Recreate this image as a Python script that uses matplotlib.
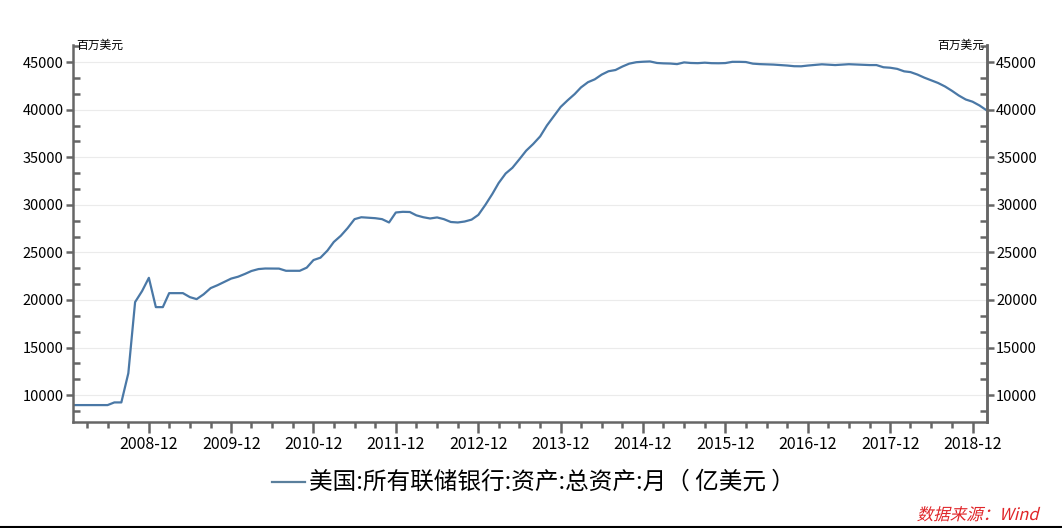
import numpy as np
import pandas as pd
import matplotlib
matplotlib.use('Agg')
import matplotlib.pyplot as plt
import matplotlib.dates as mdates
from matplotlib.ticker import MultipleLocator
from matplotlib.lines import Line2D
from matplotlib.textpath import TextPath
from matplotlib.patches import PathPatch
from matplotlib.font_manager import FontProperties
from matplotlib.transforms import Affine2D

plt.rcParams['font.family'] = ['Noto Sans CJK SC', 'DejaVu Sans']

#------------------------------------------------------------------------------
# data: Fed total assets, monthly, 2008-01 .. 2019-02 (亿美元)

months = pd.date_range('2008-01-01', '2019-02-01', freq='MS')

assets = [
    # 2008
    8950, 8950, 8950, 8950, 8950, 8950, 9230, 9230, 12300, 19780, 20940, 22330,
    # 2009
    19250, 19250, 20720, 20720, 20720, 20300, 20090, 20600, 21250, 21550, 21900, 22250,
    # 2010
    22450, 22750, 23050, 23250, 23310, 23310, 23300, 23070, 23070, 23070, 23400, 24200,
    # 2011
    24450, 25200, 26100, 26750, 27550, 28500, 28700, 28650, 28600, 28500, 28150, 29200,
    # 2012
    29270, 29250, 28900, 28700, 28570, 28680, 28500, 28200, 28150, 28250, 28450, 28950,
    # 2013
    30000, 31150, 32300, 33300, 33900, 34800, 35700, 36400, 37200, 38350, 39350, 40300,
    # 2014
    41000, 41650, 42350, 42900, 43200, 43700, 44050, 44180, 44550, 44850, 45000, 45050,
    # 2015
    45080, 44920, 44880, 44860, 44800, 44980, 44920, 44900, 44950, 44900, 44890, 44910,
    # 2016
    45040, 45040, 45020, 44850, 44800, 44780, 44750, 44700, 44650, 44580, 44570, 44650,
    # 2017
    44720, 44780, 44740, 44700, 44750, 44790, 44760, 44720, 44700, 44700, 44470, 44420,
    # 2018
    44300, 44040, 43960, 43700, 43380, 43100, 42820, 42450, 41990, 41500, 41080, 40850,
    # 2019
    40450, 39950,
]

series_name = '美国:所有联储银行:资产:总资产:月（ 亿美元 ）'
unit_label = '百万美元'
source_text = '数据来源：Wind'

#------------------------------------------------------------------------------

W, H = 1062, 528
fig = plt.figure(figsize=(W/100, H/100), dpi=100)

left, right, top, bottom = 73.3, 986.5, 45, 422.3
ax = fig.add_axes([left/W, 1-bottom/H, (right-left)/W, (bottom-top)/H])

line_color = '#4a78a6'
spine_color = '#666666'

ax.plot(months, assets, color=line_color, lw=1.6)

ax.set_xlim(months[0], months[-1])
ax.set_ylim(7140, 46810)

ax.xaxis.set_major_locator(mdates.MonthLocator(bymonth=12))
ax.xaxis.set_minor_locator(mdates.MonthLocator(bymonth=[3, 6, 9]))
ax.xaxis.set_major_formatter(mdates.DateFormatter('%Y-%m'))

ax.yaxis.set_major_locator(MultipleLocator(5000))
ax.yaxis.set_minor_locator(MultipleLocator(5000/3))

ax.grid(axis='y', which='major', color='#ebebeb', lw=0.8)
ax.set_axisbelow(True)

ax.spines['top'].set_visible(False)
for s in ['left', 'bottom', 'right']:
    ax.spines[s].set_color(spine_color)
    ax.spines[s].set_linewidth(1.8)

ax.tick_params(axis='x', which='major', direction='out', length=8, width=1.8,
               color=spine_color, labelsize=11.5, pad=2)
ax.tick_params(axis='x', which='minor', direction='out', length=4, width=1.8,
               color=spine_color)
ax.tick_params(axis='y', which='major', direction='out', length=5, width=1.8,
               color=spine_color, labelsize=10.5, pad=2)
ax.tick_params(axis='y', which='minor', direction='in', length=5, width=1.8,
               color=spine_color)

ax2 = ax.twinx()
ax2.set_ylim(ax.get_ylim())
ax2.yaxis.set_major_locator(MultipleLocator(5000))
ax2.yaxis.set_minor_locator(MultipleLocator(5000/3))
ax2.spines['top'].set_visible(False)
ax2.spines['left'].set_visible(False)
ax2.spines['bottom'].set_visible(False)
ax2.spines['right'].set_color(spine_color)
ax2.spines['right'].set_linewidth(1.8)
ax2.tick_params(axis='y', which='major', direction='out', length=5, width=1.8,
                color=spine_color, labelsize=10.5, pad=2)
ax2.tick_params(axis='y', which='minor', direction='in', length=5, width=1.8,
                color=spine_color)

# unit labels above both axes
fig.text((left+3)/W, 1-45/H, unit_label, fontsize=8.5, ha='left', va='center')
fig.text((right-2)/W, 1-45/H, unit_label, fontsize=8.5, ha='right', va='center')

# legend
ly = 1-482/H
fig.add_artist(Line2D([272/W, 305/W], [ly, ly], color='#5a7f9c', lw=1.6))
fig.text(309/W, ly, series_name, fontsize=17, ha='left', va='center')

# source, drawn as a sheared path to get the italic look
tp = TextPath((0, 0), source_text, size=16.5,
              prop=FontProperties(family='Noto Sans CJK SC'))
ext = tp.get_extents()
src_tr = (Affine2D().translate(-ext.x1, 0).skew_deg(14, 0)
          .translate(1037, H - 520))
fig.add_artist(PathPatch(tp, transform=src_tr, color='#e0262a', lw=0))

# bottom border
fig.add_artist(Line2D([0, 1], [1.5/H, 1.5/H], color='black', lw=1.5))

fig.savefig('out.png', dpi=100)
